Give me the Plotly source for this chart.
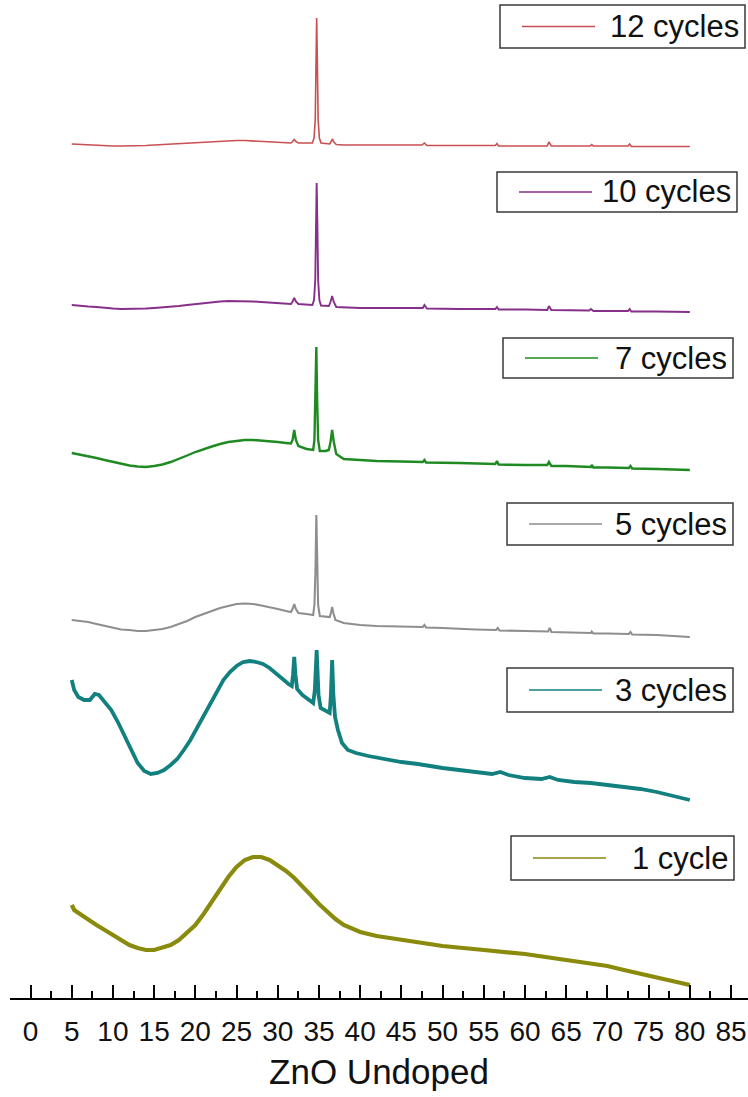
import plotly.graph_objects as go

# XRD patterns of undoped ZnO films, stacked (intensity in a.u., offset per film)
labels = ["12 cycles", "10 cycles", "7 cycles", "5 cycles", "3 cycles", "1 cycle"]
colors = ["#c94f50", "#86308a", "#1f8a22", "#8e8e8e", "#12807f", "#8a8a0c"]
widths = [1.6, 1.9, 2.4, 2.1, 3.8, 4.2]

two_theta_12 = [5, 6, 7, 8, 9, 10, 11, 12, 13, 14, 15, 16, 17, 18, 19, 20, 21, 22, 23, 24,
                25, 26, 27, 28, 29, 30, 31, 31.6, 31.8, 32.0, 32.2, 32.5, 34.2, 34.4, 34.55,
                34.65, 34.72, 34.8, 34.9, 35.05, 35.25, 36.3, 36.5, 36.65, 36.8, 37.1, 38,
                40, 44, 47.5, 47.8, 48.1, 52, 56.4, 56.6, 56.8, 60, 62.7, 62.9, 63.2,
                67.9, 68.1, 68.3, 72.5, 72.7, 72.9, 76, 80]
counts_12 = [856, 855.5, 855, 855, 854.5, 854, 854, 854, 854, 854.5, 855, 855.5, 856, 856.5,
             857, 857.5, 858, 858.5, 859, 859, 859.5, 859.5, 859, 858.5, 858, 857.5, 857,
             857, 858.5, 860.5, 858.5, 857, 857, 862, 880, 940, 982, 940, 880, 862, 857,
             856, 858.5, 861, 858, 855.5, 855, 855, 855, 855, 857, 854.5, 854.5, 854.5,
             856.5, 854, 854, 854, 858, 854, 854, 855.5, 854, 854, 856, 853.5, 853.5, 853.5]

two_theta_10 = [5, 6, 7, 8, 9, 10, 11, 12, 13, 14, 15, 16, 17, 18, 19, 20, 21, 22, 23, 24,
                25, 26, 27, 28, 29, 30, 31, 31.6, 31.8, 32.0, 32.2, 32.5, 34.2, 34.4, 34.55,
                34.65, 34.72, 34.8, 34.9, 35.05, 35.25, 36.2, 36.4, 36.6, 36.8, 37.1, 38,
                40, 44, 47.6, 47.8, 48.1, 52, 56.4, 56.6, 56.8, 60, 62.7, 62.9, 63.2,
                67.8, 68.0, 68.3, 72.5, 72.7, 72.9, 76, 80]
counts_10 = [695, 694, 693.5, 693, 692, 691.5, 691, 691, 691, 691.5, 692, 692.5, 693, 694,
             695, 696, 697, 698, 698.5, 699, 699, 699, 698.5, 698, 697.5, 697, 696.5,
             696, 698.5, 702, 698.5, 696, 695, 700, 720, 780, 817, 780, 720, 700, 694.5,
             694, 698, 704, 698, 693, 692.5, 692, 692, 692, 695, 691.5, 691, 691,
             693, 690.5, 690.5, 690, 694, 690, 689.5, 691, 689, 689, 691, 688.5, 688.5, 688]

two_theta_7 = [5, 6, 7, 8, 9, 10, 11, 12, 13, 14, 15, 16, 17, 18, 19, 20, 21, 22, 23, 24,
               25, 26, 27, 28, 29, 30, 31, 31.6, 31.8, 32.0, 32.2, 32.5, 33.5, 34.3, 34.45,
               34.58, 34.68, 34.78, 34.9, 35.1, 35.8, 36.2, 36.4, 36.6, 36.8, 37.1, 38, 40,
               42, 45, 47.6, 47.8, 48.0, 52, 56.4, 56.6, 56.8, 60, 62.7, 62.9, 63.2, 65,
               68, 68.1, 68.3, 70, 72.6, 72.8, 73, 76, 78, 80]
counts_7 = [547, 545.5, 544, 542, 540, 538, 536, 534.5, 533.5, 533, 534, 535.5, 538, 541,
            544.5, 548, 551, 553.5, 556, 558, 559, 560, 560, 559.5, 559, 558, 557, 556.5,
            560, 570, 560, 554, 551, 550, 560, 600, 653, 600, 560, 549, 549, 550, 558, 570,
            558, 546, 541, 540, 539, 538.5, 538, 540, 537.5, 537, 536, 539, 535.5, 535,
            535, 538, 534, 534, 533, 535, 532.5, 532.5, 532, 534, 531.5, 531, 530.5, 530]

two_theta_5 = [5, 6, 7, 8, 9, 10, 11, 12, 13, 14, 15, 16, 17, 18, 19, 20, 21, 22, 23, 24,
               25, 26, 27, 28, 29, 30, 31, 31.6, 31.8, 32.0, 32.2, 32.5, 33.5, 34.3, 34.45,
               34.58, 34.68, 34.78, 34.9, 35.1, 35.8, 36.3, 36.45, 36.6, 36.75, 37.0, 38, 40,
               42, 45, 47.6, 47.8, 48.0, 50, 52, 54, 56.5, 56.7, 56.9, 58, 60, 62.8, 63.0,
               63.2, 65, 68, 68.1, 68.3, 70, 72.6, 72.8, 73, 76, 78, 80]
counts_5 = [380, 379, 378, 376, 374, 372, 370.5, 370, 369, 369, 370, 371, 373, 376, 379, 383,
            386, 389, 392, 394, 396, 396.5, 396, 394.5, 393, 391, 389, 388, 391, 396, 391,
            387, 386, 385, 395, 430, 485, 430, 395, 384, 383, 383, 387, 393, 387, 380, 377,
            375, 374, 373.5, 373, 375, 372.5, 372, 371, 370.5, 370, 372, 369.5, 369.5, 369,
            368.5, 372, 368, 367.5, 367, 368.5, 366.5, 366.5, 366, 368, 365.5, 365, 364, 363]

two_theta_3 = [5.0, 5.3, 5.8, 6.5, 7.2, 7.8, 8.3, 9.0, 9.8, 10.6, 11.4, 12.2, 13.0, 13.8,
               14.6, 15.4, 16.2, 17.0, 17.8, 18.6, 19.4, 20.2, 21.0, 21.8, 22.6, 23.4, 24.2,
               25.0, 25.8, 26.6, 27.4, 28.2, 29.0, 29.8, 30.6, 31.3, 31.7, 31.85, 32.0,
               32.15, 32.35, 33.0, 33.8, 34.3, 34.5, 34.62, 34.72, 34.82, 34.95, 35.2, 35.8,
               36.3, 36.45, 36.6, 36.75, 36.95, 37.3, 37.8, 38.5, 39.5, 41, 43, 45, 47, 50,
               53, 56, 57, 58, 60, 62, 63, 64, 66, 68, 70, 72, 74, 76, 78, 80]
counts_3 = [320, 310, 303, 300, 300, 306, 305, 298, 290, 278, 264, 250, 237, 229, 226, 227,
            230, 235, 241, 250, 260, 272, 284, 297, 309, 320, 328, 334, 338, 339, 338, 336,
            332, 327, 321, 316, 314, 325, 343, 325, 311, 305, 300, 297, 310, 330, 350, 330,
            305, 292, 289, 287, 305, 340, 305, 283, 270, 257, 250, 247, 244, 241, 238, 236,
            232, 229, 226, 228, 225, 222, 221, 223, 220, 218, 217, 215, 213, 211, 208, 204,
            200]

two_theta_1 = [5.0, 5.3, 6, 7, 8, 9, 10, 11, 12, 13, 14, 15, 16, 17, 18, 19, 20, 21, 22, 23,
               24, 25, 26, 27, 28, 29, 30, 31, 32, 33, 34, 35, 36, 37, 38, 39, 40, 42, 45,
               48, 50, 55, 60, 65, 68, 70, 72, 74, 76, 78, 80]
counts_1 = [95, 90, 86, 80, 75, 70, 65, 60, 55, 52, 50, 50, 52, 55, 60, 67, 75, 86, 98, 111,
            123, 133, 140, 143, 143, 140, 135, 129, 122, 114, 105, 96, 88, 81, 75, 71, 68,
            64, 60, 56, 54, 50, 46, 40, 37, 34, 30, 26, 22, 18, 15]

x_ticks = list(range(0, 90, 5))

series_x = [two_theta_12, two_theta_10, two_theta_7, two_theta_5, two_theta_3, two_theta_1]
series_y = [counts_12, counts_10, counts_7, counts_5, counts_3, counts_1]

W, H = 748, 1097
M_L, M_R, M_T, M_B = 10, 0, 0, 99
PLOT_W, PLOT_H = W - M_L - M_R, H - M_T - M_B

fig = go.Figure()
for name, xs, ys, c, w in zip(labels, series_x, series_y, colors, widths):
    fig.add_trace(go.Scatter(x=xs, y=ys, mode="lines", name=name,
                             line=dict(color=c, width=w), showlegend=False))

# boxed key next to each pattern: (left, top, right, bottom) in page pixels
key_boxes = [(500, 5, 745, 48), (497, 172, 737, 212), (503, 338, 733, 378),
             (507, 503, 733, 545), (507, 668, 733, 712), (511, 836, 734, 880)]


def px(p):
    return (p - M_L) / PLOT_W


def py(p):
    return (H - M_B - p) / PLOT_H


FONT = "Liberation Sans, Arial, sans-serif"
shapes, annotations = [], []
for name, c, (l, t, r, b) in zip(labels, colors, key_boxes):
    shapes.append(dict(type="rect", xref="paper", yref="paper",
                       x0=px(l), x1=px(r), y0=py(b), y1=py(t),
                       line=dict(color="#3a3a3a", width=1.5), fillcolor="white"))
    ym = (t + b) / 2
    shapes.append(dict(type="line", xref="paper", yref="paper",
                       x0=px(l + 22), x1=px(l + 95), y0=py(ym), y1=py(ym),
                       line=dict(color=c, width=1.5)))
    annotations.append(dict(text=name, xref="paper", yref="paper",
                            x=px(r - 4), y=py(ym), xanchor="right", yanchor="middle",
                            showarrow=False, font=dict(family=FONT, size=31, color="#111")))

fig.update_layout(
    width=W, height=H,
    margin=dict(l=M_L, r=M_R, t=M_T, b=M_B, autoexpand=False),
    paper_bgcolor="white", plot_bgcolor="white",
    shapes=shapes, annotations=annotations,
    xaxis=dict(range=[-2.49, 87.06], tickmode="array", tickvals=x_ticks,
               ticktext=[str(v) for v in x_ticks],
               ticks="inside", ticklen=13, tickwidth=2, tickcolor="black",
               minor=dict(ticks="inside", ticklen=7, tickwidth=2, tickcolor="black",
                          tickmode="linear", tick0=-2.5, dtick=5),
               showline=True, linewidth=2, linecolor="black",
               showgrid=False, zeroline=False,
               tickfont=dict(family=FONT, size=28, color="#111"),
               ticklabelstandoff=7, ticklabeloverflow="allow",
               title=dict(text="ZnO Undoped", font=dict(family=FONT, size=35, color="#111"),
                          standoff=14)),
    yaxis=dict(range=[2, 1000], visible=False, showgrid=False, zeroline=False),
)

fig.write_html("out.html")
